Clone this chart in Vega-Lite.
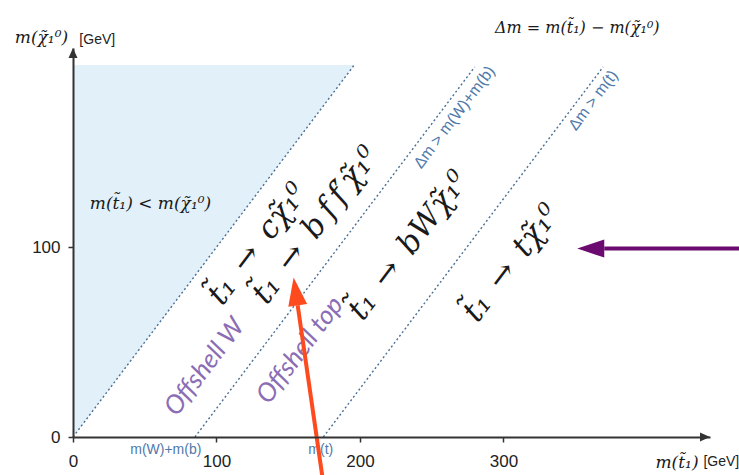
{
  "$schema": "https://vega.github.io/schema/vega-lite/v6.json",
  "width": 637,
  "height": 389,
  "autosize": {"type": "none"},
  "padding": {"left": 73, "top": 48, "right": 29, "bottom": 38},
  "background": "white",
  "config": {"view": {"stroke": null}},
  "encoding": {
    "x": {"field": "m_stop", "type": "quantitative",
      "scale": {"domain": [0, 444], "nice": false, "zero": false},
      "axis": {"values": [0, 100, 200, 300], "title": null, "grid": false,
        "domainColor": "#333", "domainWidth": 2, "tickColor": "#333", "tickWidth": 1.5, "tickSize": 5,
        "labelFont": "Liberation Sans", "labelFontSize": 17, "labelColor": "#222", "labelPadding": 11,
        "labelFlush": false, "labelOverlap": false, "zindex": 1}},
    "y": {"field": "m_lsp", "type": "quantitative",
      "scale": {"domain": [0, 205], "nice": false, "zero": false},
      "axis": {"values": [0, 100], "title": null, "grid": false,
        "domainColor": "#333", "domainWidth": 2, "tickColor": "#333", "tickWidth": 1.5, "tickSize": 5,
        "labelFont": "Liberation Sans", "labelFontSize": 17, "labelColor": "#222", "labelPadding": 8,
        "labelFlush": false, "labelOverlap": false, "zindex": 1}}
  },
  "layer": [
    {
      "data": {"values": [
        {"m_stop": 0, "m_lsp": 0, "m_lsp_top": 196},
        {"m_stop": 196, "m_lsp": 196, "m_lsp_top": 196}
      ]},
      "mark": {"type": "area", "color": "#e2f0fa", "opacity": 1},
      "encoding": {"y2": {"field": "m_lsp_top"}}
    },
    {
      "data": {"values": [
        {"boundary": "kinematic", "m_stop": 0, "m_lsp": 0},
        {"boundary": "kinematic", "m_stop": 196, "m_lsp": 196},
        {"boundary": "W+b", "m_stop": 85, "m_lsp": 0},
        {"boundary": "W+b", "m_stop": 280, "m_lsp": 195},
        {"boundary": "top", "m_stop": 174.5, "m_lsp": 0},
        {"boundary": "top", "m_stop": 369.5, "m_lsp": 195}
      ]},
      "mark": {"type": "line", "color": "#4a6f94", "strokeWidth": 1.4, "strokeDash": [2, 2.5]},
      "encoding": {"detail": {"field": "boundary"}}
    },
    {
      "data": {"values": [
        {"label": "t\u0303\u2081\u2002\u2192\u2002c\u03c7\u0303\u2081\u2070", "m_stop": 99, "m_lsp": 71.5},
        {"label": "t\u0303\u2081\u2002\u2192\u2002b\u2009f\u2009f\u2032\u03c7\u0303\u2081\u2070", "m_stop": 130, "m_lsp": 72},
        {"label": "t\u0303\u2081\u2002\u2192\u2002bW\u03c7\u0303\u2081\u2070", "m_stop": 197, "m_lsp": 63.5},
        {"label": "t\u0303\u2081\u2002\u2192\u2002t\u03c7\u0303\u2081\u2070", "m_stop": 277, "m_lsp": 62.5}
      ]},
      "mark": {"type": "text", "font": "DejaVu Serif", "fontStyle": "italic", "fontSize": 31,
        "color": "#1a1a1a", "angle": -53, "align": "left", "baseline": "middle"},
      "encoding": {"text": {"field": "label"}}
    },
    {
      "data": {"values": [
        {"label": "Offshell W", "m_stop": 67.9, "m_lsp": 12.9},
        {"label": "Offshell top", "m_stop": 132, "m_lsp": 19.3}
      ]},
      "mark": {"type": "text", "font": "Lato", "fontStyle": "italic", "fontSize": 26,
        "color": "#8a6db5", "angle": -53, "align": "left", "baseline": "middle"},
      "encoding": {"text": {"field": "label"}}
    },
    {
      "data": {"values": [
        {"label": "\u0394m > m(W)+m(b)", "m_stop": 265.8, "m_lsp": 168.5},
        {"label": "\u0394m > m(t)", "m_stop": 362.6, "m_lsp": 177.4}
      ]},
      "mark": {"type": "text", "font": "Liberation Sans", "fontSize": 16,
        "color": "#5079ab", "angle": -53, "align": "center", "baseline": "middle"},
      "encoding": {"text": {"field": "label"}}
    },
    {
      "data": {"values": [
        {"label": "m(W)+m(b)", "m_stop": 64.7, "m_lsp": -7.0},
        {"label": "m(t)", "m_stop": 172.7, "m_lsp": -7.0}
      ]},
      "mark": {"type": "text", "font": "Liberation Sans", "fontSize": 14,
        "color": "#5079ab", "align": "center", "baseline": "middle"},
      "encoding": {"text": {"field": "label"}}
    },
    {
      "data": {"values": [
        {"label": "m(t\u0303\u2081) < m(\u03c7\u0303\u2081\u2070)", "m_stop": 54, "m_lsp": 123},
        {"label": "m(\u03c7\u0303\u2081\u2070)", "m_stop": -22, "m_lsp": 210.5},
        {"label": "m(t\u0303\u2081)", "m_stop": 421, "m_lsp": -13.9}
      ]},
      "mark": {"type": "text", "font": "DejaVu Serif", "fontStyle": "italic", "fontSize": 17,
        "color": "#1a1a1a", "align": "center", "baseline": "middle"},
      "encoding": {"text": {"field": "label"}}
    },
    {
      "data": {"values": [
        {"label": "\u0394m = m(t\u0303\u2081) \u2212 m(\u03c7\u0303\u2081\u2070)", "m_stop": 351.5, "m_lsp": 215.5}
      ]},
      "mark": {"type": "text", "font": "DejaVu Serif", "fontStyle": "italic", "fontSize": 16,
        "color": "#1a1a1a", "align": "center", "baseline": "middle"},
      "encoding": {"text": {"field": "label"}}
    },
    {
      "data": {"values": [
        {"label": "[GeV]", "m_stop": 16.9, "m_lsp": 209},
        {"label": "[GeV]", "m_stop": 451.9, "m_lsp": -13.3}
      ]},
      "mark": {"type": "text", "font": "Liberation Sans", "fontSize": 14,
        "color": "#222", "align": "center", "baseline": "middle"},
      "encoding": {"text": {"field": "label"}}
    },
    {
      "data": {"values": [
        {"axis": "x", "m_stop": 440.5, "m_lsp": 0},
        {"axis": "y", "m_stop": 0, "m_lsp": 202.4}
      ]},
      "mark": {"type": "point", "filled": true, "color": "#333", "opacity": 1, "size": 100},
      "encoding": {
        "shape": {"field": "axis", "type": "nominal", "legend": null,
          "scale": {"domain": ["x", "y"], "range": ["M 1 0 L -1 -0.9 L -1 0.9 Z", "M 0 -1 L -0.9 1 L 0.9 1 Z"]}}
      }
    },
    {
      "data": {"values": [
        {"m_stop": 370.3, "m_lsp": 99.3, "m_stop_end": 468, "m_lsp_end": 99.3}
      ]},
      "mark": {"type": "rule", "color": "#6b0a6f", "strokeWidth": 4},
      "encoding": {"x2": {"field": "m_stop_end"}, "y2": {"field": "m_lsp_end"}}
    },
    {
      "data": {"values": [{"m_stop": 360.9, "m_lsp": 99.3}]},
      "mark": {"type": "point", "filled": true, "color": "#6b0a6f", "opacity": 1, "size": 729,
        "shape": "M -1 0 L 1 -0.67 L 1 0.67 Z"},
      "encoding": {}
    },
    {
      "data": {"values": [
        {"m_stop": 156.6, "m_lsp": 69.4, "m_stop_end": 173.8, "m_lsp_end": -20.8}
      ]},
      "mark": {"type": "rule", "color": "#fd4a1e", "strokeWidth": 4},
      "encoding": {"x2": {"field": "m_stop_end"}, "y2": {"field": "m_lsp_end"}}
    },
    {
      "data": {"values": [{"m_stop": 155.2, "m_lsp": 76.7}]},
      "mark": {"type": "point", "filled": true, "color": "#fd4a1e", "opacity": 1, "size": 784,
        "angle": -8.4, "shape": "M 0 -1 L 0.68 1 L -0.68 1 Z"},
      "encoding": {}
    }
  ]
}
